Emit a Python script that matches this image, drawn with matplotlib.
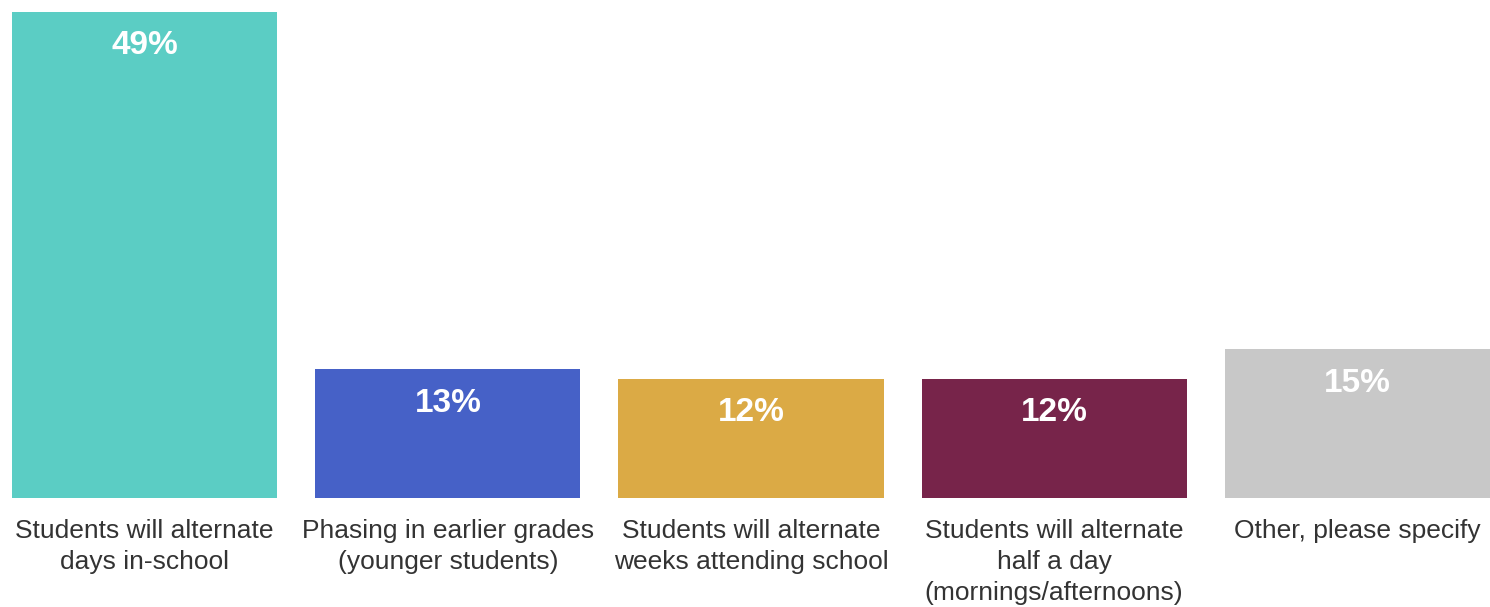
import matplotlib.pyplot as plt

# --- data ---
categories = [
    "Students will alternate\ndays in-school",
    "Phasing in earlier grades\n(younger students)",
    "Students will alternate\nweeks attending school",
    "Students will alternate\nhalf a day\n(mornings/afternoons)",
    "Other, please specify",
]
values = [49, 13, 12, 12, 15]
value_labels = ["49%", "13%", "12%", "12%", "15%"]
colors = ["#5BCDC4", "#4661C7", "#DBAA45", "#77244A", "#C8C8C8"]

plt.rcParams['font.family'] = ['Liberation Sans', 'DejaVu Sans']

fig = plt.figure(figsize=(14.9, 6.07), dpi=100)
ax = fig.add_axes([12 / 1490, 1 - 498 / 607, 1 - 12 / 1490, (498 - 12) / 607])

width = 0.875
x = list(range(len(values)))
ax.bar(x, values, width=width, color=colors)
ax.set_xlim(-width / 2, len(values) - 1 + width / 2)
ax.set_ylim(0, 49)

# value labels inside bars near the top
for xi, v, lab in zip(x, values, value_labels):
    ax.annotate(lab, (xi, v), xytext=(0, -34), textcoords='offset pixels',
                ha='center', va='center', color='white', fontsize=24,
                fontweight='bold')

# category labels below bars
for xi, cat in zip(x, categories):
    ax.annotate(cat, (xi, 0), xytext=(0, -21), textcoords='offset pixels',
                ha='center', va='top', color='#333333', fontsize=19,
                linespacing=1.38, annotation_clip=False)

ax.axis('off')

fig.savefig('out.png', dpi=100, facecolor='white')
